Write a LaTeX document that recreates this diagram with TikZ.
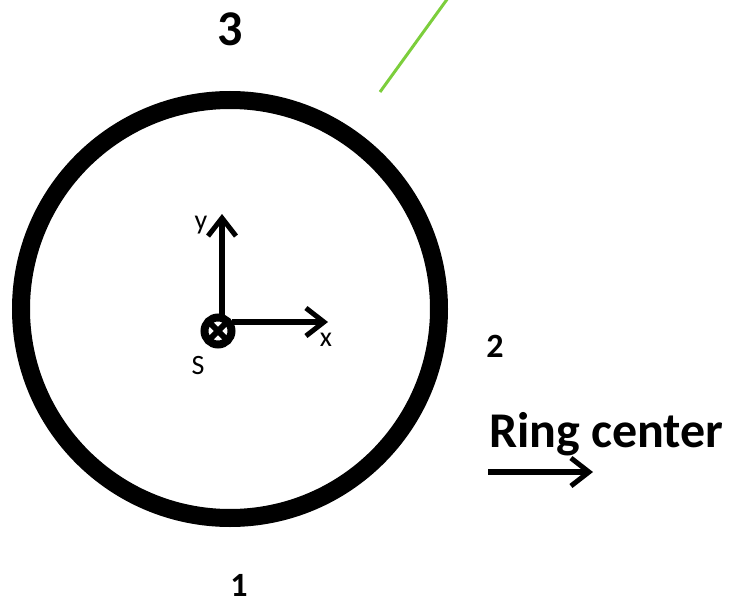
\documentclass[tikz,border=0pt]{standalone}
\usepackage{fontspec}
\setmainfont{Carlito}
\usetikzlibrary{arrows.meta}
\definecolor{leafgreen}{RGB}{124,206,60}
\tikzset{
  axis/.style={line width=5.5pt, -{Straight Barb[length=18pt,width=28pt,line width=5pt]}},
  biglabel/.style={font=\fontsize{50}{50}\selectfont\bfseries, inner sep=0pt},
  numlabel/.style={font=\fontsize{34}{34}\selectfont\bfseries, inner sep=0pt},
  smalllabel/.style={font=\fontsize{28}{28}\selectfont, inner sep=0pt}
}
\begin{document}
\begin{tikzpicture}[x=1pt,y=-1pt]
\useasboundingbox (0,0) rectangle (732,605);
% ring
\draw[line width=18pt] (230,309) circle[radius=209];
\draw[leafgreen, line width=3pt] (380,92) -- (448,-2);
% source and local axes
\node[circle, draw, line width=8pt, minimum size=27pt, inner sep=0pt] (src) at (218,331) {};
\draw[line width=6pt] (src.center) ++(-7,-7) -- ++(14,14);
\draw[line width=6pt] (src.center) ++(7,-7) -- ++(-14,14);
\coordinate (ytip) at (222,214);
\coordinate (xtip) at (328,322);
\draw[axis] (222,318) -- (ytip);
\draw[axis] (232,322) -- (xtip);
\node[smalllabel] (ylab) at (201,225) {y};
\node[smalllabel] (xlab) at (326,340) {x};
\node[smalllabel] (slab) at (198,366) {S};
% position labels
\node[biglabel] (p3) at (230,29) {3};
\node[numlabel] (p2) at (495,346) {2};
\node[numlabel] (p1) at (239,585) {1};
% direction to ring center
\node[biglabel, anchor=base west] (rc) at (489,447) {Ring center};
\coordinate (rcstart) at (488,472);
\coordinate (rcend) at (593,472);
\draw[axis] (rcstart) -- (rcend);
\end{tikzpicture}
\end{document}
